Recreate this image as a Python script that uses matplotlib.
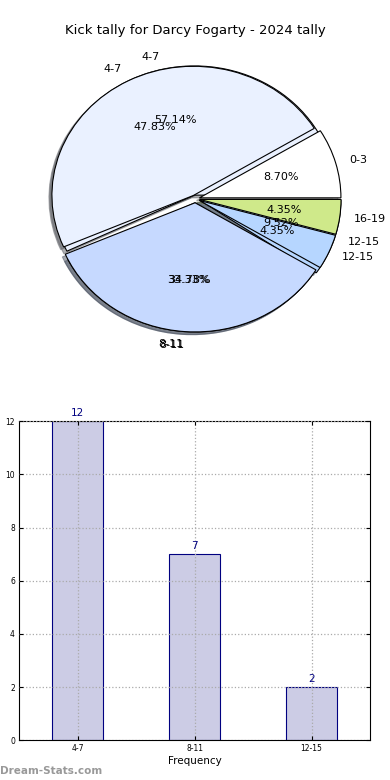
import matplotlib
matplotlib.use("Agg")
import matplotlib.pyplot as plt
import numpy as np

# pie data (two overlapping tallies)
pie1_labels = ["0-3", "4-7", "8-11", "12-15", "16-19"]
pie1_counts = [2, 11, 8, 1, 1]
pie1_colors = ["#ffffff", "#eaf1ff", "#c6d9ff", "#b6d6ff", "#cfe98a"]

pie2_labels = ["4-7", "8-11", "12-15"]
pie2_counts = [12, 7, 2]
pie2_colors = ["#eaf1ff", "#c6d9ff", "#b6d6ff"]

# bar data
bar_labels = ["4-7", "8-11", "12-15"]
bar_values = [12, 7, 2]

fig = plt.figure(figsize=(3.9, 7.8), dpi=100)
fig.text(0.5, 0.961, "Kick tally for Darcy Fogarty - 2024 tally",
         ha="center", va="center", fontsize=9.5)

ax = fig.add_axes([0.0474, 0.538, 0.907, 0.414])
shadow = {"ox": -0.015, "oy": -0.015, "shade": 0.6}
ax.pie(pie2_counts, labels=pie2_labels, colors=pie2_colors,
       autopct="%.2f%%", shadow=shadow, startangle=0,
       explode=[0.03] * len(pie2_counts),
       wedgeprops=dict(edgecolor="black", linewidth=0.8),
       textprops=dict(fontsize=8))
ax.pie(pie1_counts, labels=pie1_labels, colors=pie1_colors,
       autopct="%.2f%%", shadow=shadow, startangle=0,
       explode=[0.03] * len(pie1_counts),
       wedgeprops=dict(edgecolor="black", linewidth=0.8),
       textprops=dict(fontsize=8))
ax.set_aspect("auto")
ax.set_xlim(-1.25, 1.25)
ax.set_ylim(-1.25, 1.25)
ax.axis("off")

bx = fig.add_axes([0.049, 0.051, 0.9, 0.409])
x = np.arange(len(bar_values))
bx.bar(x, bar_values, width=0.44, color="#ccccE5",
       edgecolor="navy", linewidth=0.8, zorder=1)
for xi, v in zip(x, bar_values):
    bx.text(xi, v + 0.12, str(v), ha="center", va="bottom",
            color="navy", fontsize=7.5)
bx.set_xlim(-0.5, 2.5)
bx.set_ylim(0, 12)
bx.set_xticks(x)
bx.set_xticklabels(bar_labels)
bx.set_yticks(range(0, 13, 2))
bx.tick_params(labelsize=5.5, direction="in", top=True, right=True,
               length=3, pad=3)
bx.grid(True, color="#aaaaaa", linestyle=":", linewidth=0.9, zorder=5)
bx.set_axisbelow(False)
bx.set_xlabel("Frequency", fontsize=7.5, labelpad=2)
bx.set_ylabel("Stat Interval", fontsize=7.5, labelpad=9)

fig.text(0.0, 0.012, "Dream-Stats.com", fontsize=7.5, color="#999999",
         fontweight="semibold", ha="left", va="center")

fig.savefig("out.png", dpi=100)
